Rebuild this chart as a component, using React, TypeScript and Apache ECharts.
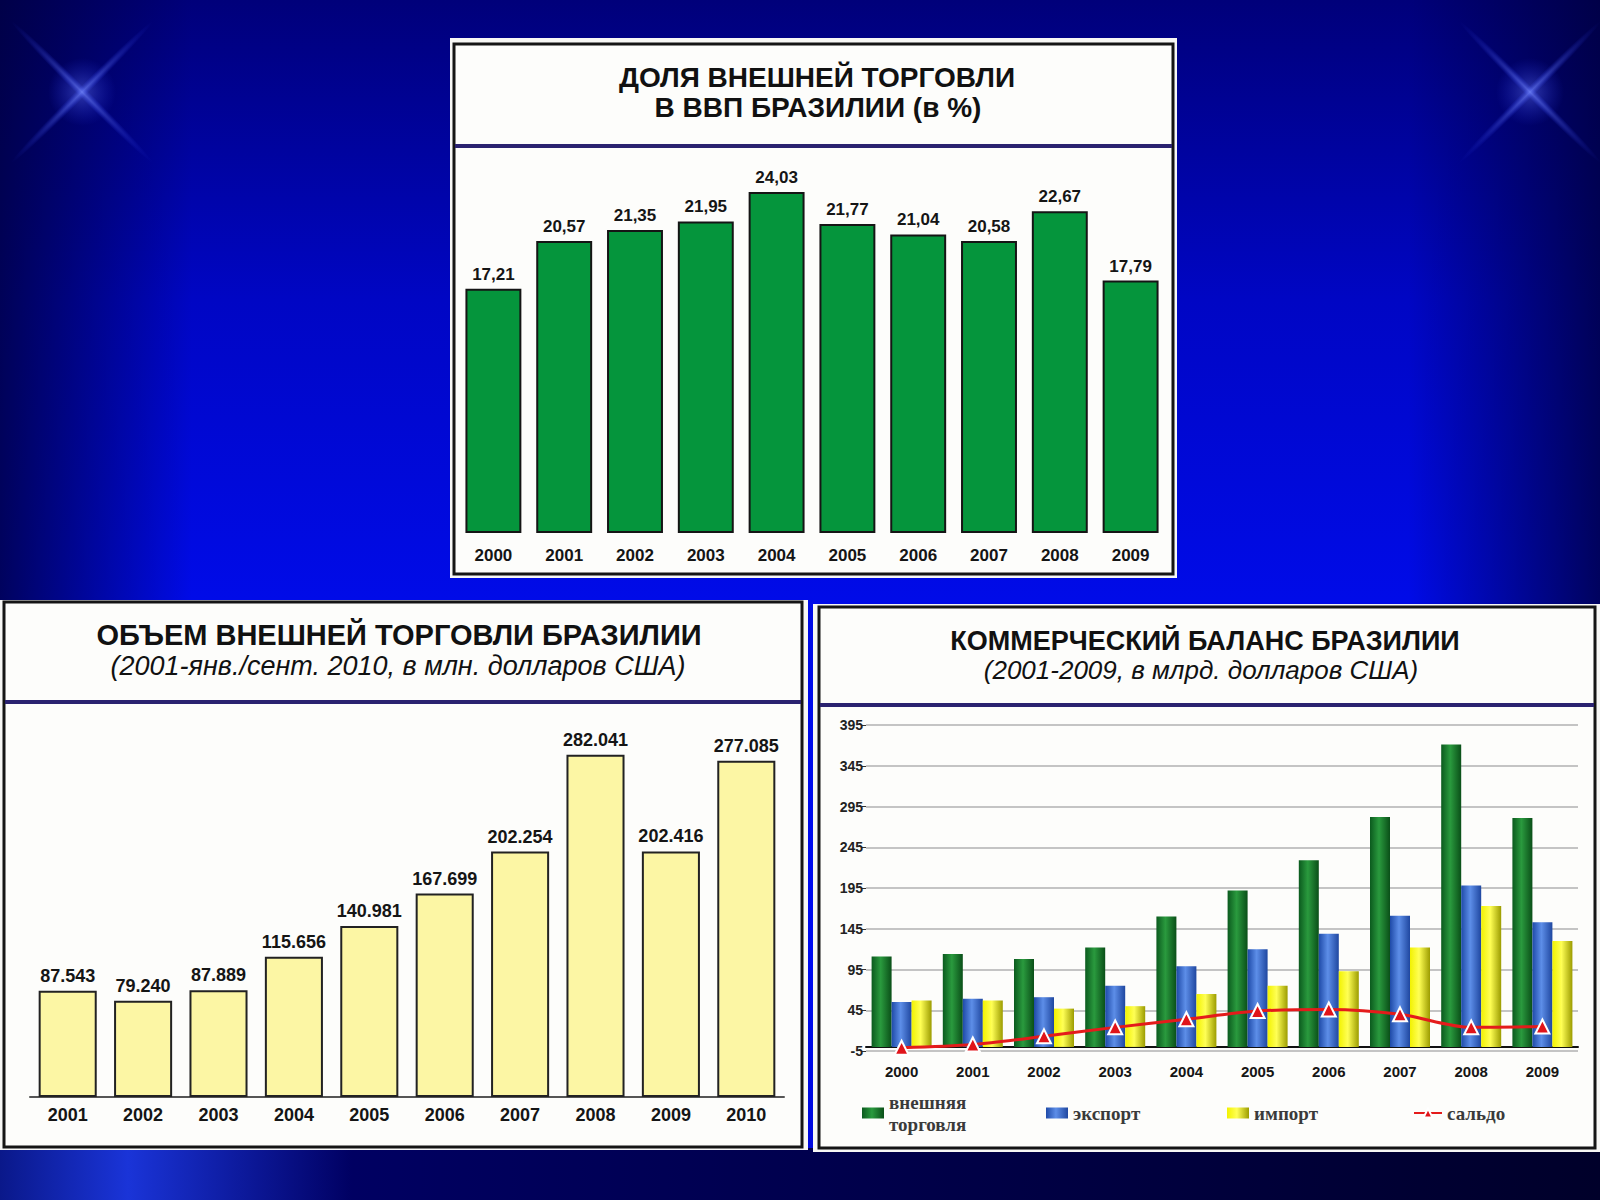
import React, { useEffect, useRef } from "react";
import * as echarts from "echarts";

// ---------- data ----------
const years1 = ["2000", "2001", "2002", "2003", "2004", "2005", "2006", "2007", "2008", "2009"];
const shareGdp = [17.21, 20.57, 21.35, 21.95, 24.03, 21.77, 21.04, 20.58, 22.67, 17.79];

const years2 = ["2001", "2002", "2003", "2004", "2005", "2006", "2007", "2008", "2009", "2010"];
const tradeVolume = [87.543, 79.24, 87.889, 115.656, 140.981, 167.699, 202.254, 282.041, 202.416, 277.085];

const years3 = ["2000", "2001", "2002", "2003", "2004", "2005", "2006", "2007", "2008", "2009"];
const foreignTrade = [111, 114, 108, 122, 160, 192, 229, 282, 371, 281];
const exportVals = [55, 59, 61, 75, 99, 120, 139, 161, 198, 153];
const importVals = [57, 57, 47, 50, 65, 75, 93, 122, 173, 130];
const saldoVals = [-1, 3, 13, 24, 34, 44, 46, 40, 24, 25];

const title1 = ["ДОЛЯ ВНЕШНЕЙ ТОРГОВЛИ", "В ВВП БРАЗИЛИИ (в %)"];
const title2 = ["ОБЪЕМ ВНЕШНЕЙ ТОРГОВЛИ БРАЗИЛИИ", "(2001-янв./сент. 2010, в млн. долларов США)"];
const title3 = ["КОММЕРЧЕСКИЙ БАЛАНС БРАЗИЛИИ", "(2001-2009, в млрд. долларов США)"];
const legendNames = ["внешняя торговля", "экспорт", "импорт", "сальдо"];

const SANS = "'Liberation Sans', Arial, sans-serif";
const SERIF = "'Liberation Serif', 'Times New Roman', serif";

function grad(stops: [number, string][]) {
  return {
    type: "linear",
    x: 0,
    y: 0,
    x2: 1,
    y2: 0,
    colorStops: stops.map(([offset, color]) => ({ offset, color })),
  };
}

function panel(x: number, y: number, w: number, h: number, bx: number, by: number, bw: number, bh: number, divY: number) {
  return [
    { type: "rect", z: -5, shape: { x, y, width: w, height: h }, style: { fill: "#f7f7f5" } },
    {
      type: "rect",
      z: -5,
      shape: { x: bx, y: by, width: bw, height: bh },
      style: { fill: "#fdfdfb", stroke: "#151515", lineWidth: 3 },
    },
    {
      type: "line",
      z: -4,
      shape: { x1: bx + 1, y1: divY, x2: bx + bw - 1, y2: divY },
      style: { stroke: "#2a2270", lineWidth: 4 },
    },
  ];
}

function titleText(text: string, x: number, y: number, size: number, italic = false) {
  return {
    type: "text",
    z: 10,
    x,
    y,
    style: {
      text,
      fill: "#111",
      font: `${italic ? "italic" : "bold"} ${size}px ${SANS}`,
      textAlign: "center",
      textVerticalAlign: "middle",
    },
  };
}

function star(cx: number, cy: number) {
  const arm = (rot: number, rx: number) => ({
    type: "ellipse",
    z: -8,
    x: cx,
    y: cy,
    rotation: rot,
    shape: { cx: 0, cy: 0, rx, ry: 5 },
    style: {
      fill: {
        type: "radial",
        x: 0.5,
        y: 0.5,
        r: 0.5,
        colorStops: [
          { offset: 0, color: "rgba(120,140,255,0.55)" },
          { offset: 1, color: "rgba(40,60,255,0)" },
        ],
      },
    },
  });
  return [
    arm(Math.PI / 4, 100),
    arm(-Math.PI / 4, 100),
    {
      type: "circle",
      z: -8,
      shape: { cx, cy, r: 34 },
      style: {
        fill: {
          type: "radial",
          x: 0.5,
          y: 0.5,
          r: 0.5,
          colorStops: [
            { offset: 0, color: "rgba(110,130,255,0.45)" },
            { offset: 1, color: "rgba(40,60,255,0)" },
          ],
        },
      },
    },
  ];
}

export default function App() {
  const ref = useRef<HTMLDivElement>(null);

  useEffect(() => {
    if (!ref.current) return;
    const chart = echarts.init(ref.current, null, { renderer: "svg" });

    const graphics: any[] = [
      {
        type: "rect",
        z: -10,
        shape: { x: 0, y: 0, width: 1600, height: 1200 },
        style: {
          fill: {
            type: "linear",
            x: 0,
            y: 0,
            x2: 0,
            y2: 1,
            colorStops: [
              { offset: 0, color: "#00007a" },
              { offset: 0.25, color: "#0006c4" },
              { offset: 0.5, color: "#000be8" },
              { offset: 0.8, color: "#000cf2" },
              { offset: 1, color: "#0008d8" },
            ],
          },
        },
      },
      {
        type: "rect",
        z: -9,
        shape: { x: 0, y: 0, width: 1600, height: 1200 },
        style: {
          fill: grad([
            [0, "rgba(0,0,60,0.8)"],
            [0.12, "rgba(0,0,60,0)"],
            [0.88, "rgba(0,0,60,0)"],
            [1, "rgba(0,0,60,0.8)"],
          ]),
        },
      },
      ...star(82, 92),
      ...star(1530, 92),
      {
        type: "rect",
        z: -7,
        shape: { x: 0, y: 1148, width: 1600, height: 52 },
        style: {
          fill: grad([
            [0, "#0a188a"],
            [0.08, "#1a34d8"],
            [0.22, "#000062"],
            [1, "#00002a"],
          ]),
        },
      },
      ...panel(450, 38, 727, 540, 454, 44, 719, 530, 146),
      ...panel(0, 600, 808, 550, 4, 602, 798, 545, 702),
      ...panel(813, 604, 787, 548, 819, 607, 776, 541, 705),
      titleText(title1[0], 817, 77, 28),
      titleText(title1[1], 818, 107, 28),
      titleText(title2[0], 399, 635, 29),
      titleText(title2[1], 398, 666, 27, true),
      titleText(title3[0], 1205, 641, 27),
      titleText(title3[1], 1201, 670, 26, true),
    ];

    const legendBase = {
      selectedMode: false,
      itemWidth: 22,
      itemHeight: 11,
      itemGap: 0,
      textStyle: { fontFamily: SERIF, fontWeight: "bold", fontSize: 19, color: "#3a3a3a", lineHeight: 22 },
    };

    const greenGrad = grad([
      [0, "#0b5a1e"],
      [0.45, "#2a9a3e"],
      [1, "#0a4f18"],
    ]);
    const blueGrad = grad([
      [0, "#1e4aa8"],
      [0.45, "#5d8ee8"],
      [1, "#1f47a0"],
    ]);
    const yellowGrad = grad([
      [0, "#f2f200"],
      [0.45, "#ffff55"],
      [1, "#9c9c00"],
    ]);

    const catAxisLabel = (size: number, margin: number, family = SANS) => ({
      fontFamily: family,
      fontWeight: "bold",
      fontSize: size,
      color: "#151515",
      margin,
    });

    const option: any = {
      animation: false,
      backgroundColor: "#0008c0",
      graphic: { elements: graphics },
      grid: [
        { left: 458, top: 164, width: 708, height: 369 },
        { left: 30, top: 733, width: 754, height: 364 },
        { left: 866, top: 725, width: 712, height: 326 },
      ],
      xAxis: [
        {
          gridIndex: 0,
          type: "category",
          data: years1,
          axisLine: { show: false },
          axisTick: { show: false },
          axisLabel: catAxisLabel(17, 14),
        },
        {
          gridIndex: 1,
          type: "category",
          data: years2,
          axisLine: { show: true, lineStyle: { color: "#555", width: 2 } },
          axisTick: { show: false },
          axisLabel: catAxisLabel(18, 9),
        },
        {
          gridIndex: 2,
          type: "category",
          data: years3,
          axisLine: { show: true, lineStyle: { color: "#111", width: 2 } },
          axisTick: { show: false },
          axisLabel: catAxisLabel(15, 13),
        },
      ],
      yAxis: [
        { gridIndex: 0, type: "value", min: 0, max: 26, show: false },
        { gridIndex: 1, type: "value", min: 0, max: 300, show: false },
        {
          gridIndex: 2,
          type: "value",
          min: -5,
          max: 395,
          interval: 50,
          axisLine: { show: false },
          axisTick: { show: true, length: 4, lineStyle: { color: "#333" } },
          axisLabel: { fontFamily: SANS, fontWeight: "bold", fontSize: 14, color: "#222", margin: 3 },
          splitLine: { show: true, lineStyle: { color: "#c4c4c4", width: 2 } },
        },
      ],
      legend: [
        {
          ...legendBase,
          data: [legendNames[0]],
          left: 857,
          top: 1086,
          icon: "rect",
          formatter: () => "внешняя\nторговля",
        },
        { ...legendBase, data: [legendNames[1]], left: 1041, top: 1097, icon: "rect" },
        { ...legendBase, data: [legendNames[2]], left: 1222, top: 1097, icon: "rect" },
        { ...legendBase, data: [legendNames[3]], left: 1408, top: 1097, itemWidth: 28 },
      ],
      series: [
        {
          name: "share",
          type: "bar",
          xAxisIndex: 0,
          yAxisIndex: 0,
          data: shareGdp,
          barCategoryGap: "21%",
          itemStyle: { color: "#05953c", borderColor: "#151515", borderWidth: 2 },
          label: {
            show: true,
            position: "top",
            distance: 6,
            fontFamily: SANS,
            fontWeight: "bold",
            fontSize: 17,
            color: "#151515",
            formatter: (p: any) => p.value.toFixed(2).replace(".", ","),
          },
        },
        {
          name: "volume",
          type: "bar",
          xAxisIndex: 1,
          yAxisIndex: 1,
          data: tradeVolume,
          barCategoryGap: "23%",
          itemStyle: { color: "#fcf6a4", borderColor: "#222", borderWidth: 2 },
          label: {
            show: true,
            position: "top",
            distance: 6,
            fontFamily: SANS,
            fontWeight: "bold",
            fontSize: 18,
            color: "#151515",
            formatter: (p: any) => p.value.toFixed(3),
          },
        },
        {
          name: legendNames[0],
          type: "bar",
          xAxisIndex: 2,
          yAxisIndex: 2,
          data: foreignTrade,
          barWidth: 20,
          barGap: "0%",
          itemStyle: { color: greenGrad },
        },
        {
          name: legendNames[1],
          type: "bar",
          xAxisIndex: 2,
          yAxisIndex: 2,
          data: exportVals,
          barWidth: 20,
          barGap: "0%",
          itemStyle: { color: blueGrad },
        },
        {
          name: legendNames[2],
          type: "bar",
          xAxisIndex: 2,
          yAxisIndex: 2,
          data: importVals,
          barWidth: 20,
          barGap: "0%",
          itemStyle: { color: yellowGrad },
        },
        {
          name: legendNames[3],
          type: "line",
          xAxisIndex: 2,
          yAxisIndex: 2,
          data: saldoVals,
          smooth: 0.3,
          z: 5,
          symbol: "triangle",
          symbolSize: 14,
          lineStyle: { color: "#e41b1b", width: 3 },
          itemStyle: { color: "#e0141a", borderColor: "#ffffff", borderWidth: 2 },
        },
      ],
    };

    chart.setOption(option);
    return () => chart.dispose();
  }, []);

  return (
    <div
      ref={ref}
      style={{ position: "absolute", left: 0, top: 0, width: 1600, height: 1200 }}
    />
  );
}
